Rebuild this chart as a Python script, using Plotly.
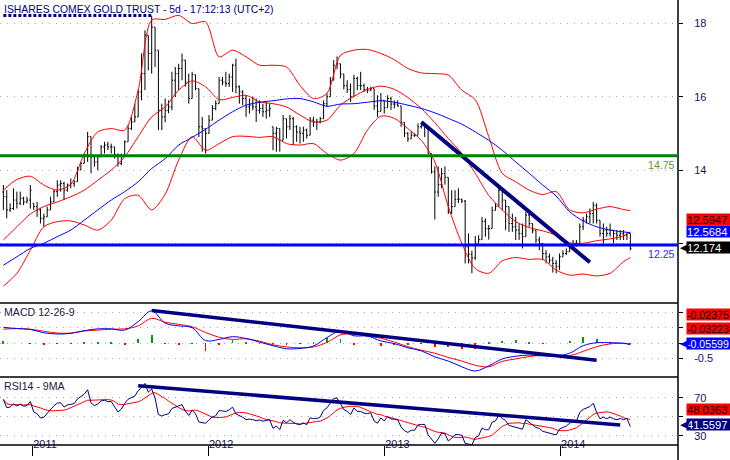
import pandas as pd
import plotly.graph_objects as go

# ---------------- data (weekly bars) ----------------
dates = pd.date_range("2010-11-01", periods=187, freq="7D")

opens = [13.40,13.27,12.91,12.95,13.18,13.09,13.22,13.13,13.18,13.09,
         13.00,12.91,12.68,12.72,12.91,13.13,13.41,13.59,13.63,13.45,
         13.59,13.63,13.68,14.00,14.18,14.41,14.91,14.36,14.22,14.36,
         14.63,14.68,14.63,14.63,14.41,14.18,14.36,14.77,15.13,15.31,
         15.45,16.13,16.63,17.68,17.18,17.90,17.27,15.63,15.45,15.63,
         15.72,16.45,16.63,16.77,17.00,16.40,15.95,16.60,16.22,15.18,
         15.13,15.00,15.36,15.68,15.81,16.45,16.40,16.36,16.54,16.86,
         16.27,16.13,15.95,15.72,15.77,15.72,15.63,15.68,15.59,15.63,
         15.18,15.00,15.13,14.81,15.40,15.18,15.40,15.18,15.04,15.00,
         15.09,14.95,15.36,15.31,15.31,15.40,15.81,16.00,16.45,16.86,
         16.90,16.62,16.30,16.20,16.00,16.50,16.30,16.30,16.20,16.18,
         16.22,15.75,15.60,15.90,15.70,15.95,15.80,15.80,15.75,15.30,
         15.00,14.85,14.95,14.95,15.18,15.20,15.20,14.45,13.95,13.40,
         13.60,13.90,13.80,12.85,13.00,13.20,13.20,13.15,11.90,11.70,
         11.60,12.00,12.10,12.60,12.40,12.40,12.90,13.00,13.45,13.18,
         13.00,12.54,12.45,12.36,12.27,12.18,12.77,12.54,12.36,12.09,
         12.00,11.72,11.63,11.54,11.45,11.36,11.63,11.72,11.77,11.90,
         12.00,12.00,12.45,12.63,12.72,12.81,13.04,12.63,12.27,12.36,
         12.27,12.36,12.27,12.22,12.27,12.22,12.27]
highs = [13.59,13.45,13.09,13.50,13.41,13.41,13.27,13.27,13.59,13.09,
         13.13,12.95,12.81,13.00,13.27,13.45,13.72,13.72,13.68,13.63,
         13.77,13.72,14.09,14.22,14.45,15.04,14.91,14.36,14.41,14.68,
         14.77,14.77,14.72,14.63,14.45,14.45,14.81,15.22,15.45,15.81,
         16.18,17.18,17.81,17.68,18.20,17.90,17.27,15.81,15.95,15.90,
         16.68,16.81,16.90,17.18,17.00,16.63,16.68,16.60,16.22,15.45,
         15.13,15.50,15.77,15.90,16.54,16.54,16.68,16.63,16.90,17.04,
         16.31,16.18,16.04,15.95,16.00,15.95,15.90,15.81,15.86,15.81,
         15.18,15.18,15.13,15.50,15.40,15.50,15.45,15.22,15.18,15.18,
         15.13,15.45,15.45,15.40,15.45,15.90,16.09,16.54,17.00,17.10,
         16.90,16.62,16.45,16.36,16.60,16.55,16.68,16.36,16.27,16.27,
         16.22,16.04,16.10,15.90,16.04,16.00,15.90,15.90,15.75,15.30,
         15.04,15.04,15.00,15.27,15.27,15.27,15.20,14.45,14.10,14.10,
         14.05,14.10,13.80,13.45,13.45,13.50,13.22,13.18,12.27,11.80,
         12.20,12.22,12.72,12.68,12.50,13.00,13.10,13.55,13.45,13.18,
         13.00,12.81,12.72,12.54,12.54,12.86,12.90,12.54,12.36,12.18,
         12.00,11.81,11.72,11.63,11.54,11.72,11.81,11.86,12.00,12.09,
         12.09,12.54,12.72,12.81,12.95,13.13,13.09,12.63,12.54,12.45,
         12.54,12.36,12.36,12.36,12.36,12.31,12.27]
lows = [12.91,12.68,12.86,12.91,12.95,13.04,13.04,13.09,12.95,12.91,
        12.72,12.54,12.45,12.72,12.91,13.13,13.27,13.41,13.18,13.41,
        13.50,13.54,13.68,14.00,14.18,14.22,13.91,14.09,14.00,14.36,
        14.45,14.54,14.45,14.31,14.09,14.13,14.36,14.77,15.09,15.31,
        15.45,15.90,16.18,16.72,16.63,16.81,15.09,15.09,15.30,15.55,
        15.63,15.99,16.18,16.45,16.27,15.81,15.95,16.18,14.90,14.50,
        14.45,15.00,15.36,15.63,15.81,16.31,16.27,16.27,16.13,16.09,
        15.81,15.77,15.45,15.54,15.63,15.31,15.54,15.45,15.40,15.45,
        14.54,14.50,14.50,14.81,14.86,15.09,14.68,14.77,14.72,14.77,
        14.86,14.95,15.18,15.09,15.27,15.40,15.72,16.00,16.45,16.75,
        16.50,16.20,16.10,15.86,16.00,16.18,16.18,16.13,16.10,16.15,
        15.64,15.45,15.60,15.54,15.70,15.64,15.68,15.72,15.18,14.90,
        14.77,14.85,14.90,14.95,15.13,14.90,14.45,13.90,12.65,13.27,
        13.50,13.60,12.80,12.80,13.00,13.10,13.10,11.45,11.45,11.18,
        11.55,12.00,12.10,12.18,12.10,12.40,12.90,13.00,12.90,12.36,
        12.31,12.31,12.09,12.09,11.86,12.18,12.45,12.27,12.00,11.81,
        11.54,11.45,11.45,11.20,11.18,11.27,11.63,11.68,11.77,11.86,
        11.90,12.00,12.36,12.54,12.54,12.54,12.54,12.18,12.00,12.18,
        12.18,12.00,12.09,12.09,12.09,12.09,11.81]
closes = [13.27,12.91,12.95,13.18,13.09,13.22,13.13,13.18,13.45,13.00,
          12.91,12.68,12.72,12.91,13.13,13.41,13.59,13.63,13.45,13.59,
          13.63,13.68,14.00,14.18,14.41,14.91,14.36,14.22,14.36,14.63,
          14.68,14.63,14.63,14.41,14.18,14.36,14.77,15.13,15.31,15.45,
          16.13,16.63,17.68,17.18,17.90,17.27,15.63,15.45,15.63,15.72,
          16.45,16.63,16.77,17.00,16.40,15.95,16.60,16.22,15.18,15.13,
          15.00,15.36,15.68,15.81,16.45,16.40,16.36,16.54,16.86,16.27,
          16.13,15.95,15.72,15.77,15.72,15.63,15.68,15.59,15.63,15.68,
          15.00,15.13,14.81,15.40,15.18,15.40,15.18,15.04,15.00,15.09,
          14.95,15.36,15.31,15.31,15.40,15.81,16.00,16.45,16.86,16.90,
          16.62,16.30,16.20,16.00,16.50,16.30,16.30,16.20,16.18,16.22,
          15.75,15.60,15.90,15.70,15.95,15.80,15.80,15.75,15.30,15.00,
          14.85,14.95,14.95,15.18,15.20,15.20,14.45,13.95,13.40,13.60,
          13.90,13.80,12.85,13.00,13.20,13.20,13.15,11.90,11.70,11.60,
          12.00,12.10,12.60,12.40,12.40,12.90,13.00,13.45,13.18,13.00,
          12.54,12.45,12.36,12.27,12.18,12.77,12.54,12.36,12.09,12.00,
          11.72,11.63,11.54,11.45,11.36,11.63,11.72,11.77,11.90,12.00,
          12.00,12.45,12.63,12.72,12.81,13.04,12.63,12.27,12.36,12.27,
          12.36,12.27,12.22,12.27,12.22,12.27,11.86]

# indicator lines at every 4th bar (+ last bar)
ind_idx = list(range(0, 185, 4)) + [186]
bb_upper = [13.45,13.74,13.83,13.59,13.45,13.61,14.45,15.04,15.13,15.09,
            16.18,18.09,18.11,18.22,18.00,18.04,17.09,17.27,17.09,16.86,
            16.86,16.81,16.31,15.95,16.09,17.13,17.27,17.29,17.18,17.01,
            16.77,16.65,16.63,16.59,16.18,15.92,14.91,13.91,13.68,13.45,
            13.33,13.41,12.91,12.83,12.93,13.00,12.92,12.89]
bb_mid = [12.09,12.45,12.80,13.00,13.13,13.27,13.45,13.72,14.00,14.36,
          14.91,15.45,15.72,16.18,16.43,16.27,15.92,15.98,16.04,15.86,
          15.81,15.72,15.50,15.31,15.36,15.77,16.01,16.20,16.29,16.20,
          15.98,15.68,15.29,14.86,14.45,13.91,13.31,12.91,12.59,12.43,
          12.34,12.22,12.01,12.00,12.07,12.12,12.20,12.31]
bb_lower = [10.83,11.18,11.81,12.45,12.59,12.61,12.50,12.36,12.63,13.22,
            13.31,12.91,13.34,14.27,14.91,14.54,14.72,14.91,14.92,14.89,
            14.91,14.72,14.68,14.72,14.45,14.27,14.45,15.09,15.47,15.41,
            15.13,14.81,14.22,13.00,12.00,11.31,11.18,11.52,11.61,11.56,
            11.56,11.27,11.13,11.16,11.11,11.18,11.50,11.61]
sma_blue = [11.40,11.63,11.86,12.00,12.18,12.36,12.63,12.91,13.18,13.41,
            13.68,14.04,14.31,14.68,14.89,15.11,15.36,15.59,15.77,15.85,
            15.89,15.94,15.95,15.86,15.74,15.80,15.81,15.85,15.89,15.85,
            15.77,15.68,15.56,15.41,15.25,15.04,14.81,14.54,14.22,13.91,
            13.59,13.29,12.86,12.61,12.45,12.36,12.31,12.29]
macd_line = [0.52,0.48,0.45,0.34,0.30,0.32,0.41,0.47,0.47,0.43,
             0.71,1.07,0.66,0.57,0.51,0.08,0.12,0.21,0.15,0.03,
             -0.09,-0.19,-0.18,-0.10,0.18,0.40,0.24,0.23,0.07,-0.02,
             -0.16,-0.26,-0.46,-0.60,-0.79,-0.93,-0.76,-0.53,-0.44,-0.40,
             -0.43,-0.43,-0.34,-0.09,0.01,0.01,-0.01,-0.056]
macd_signal = [0.46,0.48,0.46,0.39,0.33,0.33,0.40,0.43,0.46,0.47,
               0.57,0.82,0.69,0.62,0.54,0.35,0.19,0.12,0.14,0.06,
               -0.06,-0.13,-0.16,-0.13,0.02,0.27,0.30,0.23,0.16,0.03,
               -0.12,-0.24,-0.34,-0.48,-0.60,-0.74,-0.79,-0.61,-0.53,-0.45,
               -0.41,-0.43,-0.42,-0.28,-0.12,-0.03,-0.01,-0.032]

# drawn trend lines (bar index, value)
price_trend_idx = [124, 174]
price_trend_val = [15.31, 11.48]
macd_trend_idx = [44, 176]
macd_trend_val = [1.08, -0.57]
rsi_trend_idx = [40, 183]
rsi_trend_val = [83.0, 41.3]

# horizontal levels (position on this chart's scale) and their labels
level_vals = [14.39, 11.95]
level_texts = ["14.75", "12.25"]
level_colors = ["#008000", "#0000ff"]
level_text_colors = ["#5a9a2a", "#2a2aff"]

price_boxes = ["12.5947", "12.5684", "12.174"]
macd_boxes = ["-0.02375", "-0.03223", "-0.05599"]
rsi_boxes = ["48.0363", "41.5597"]

year_ticks = ["2011-01-01", "2012-01-01", "2013-01-01", "2014-01-01"]
year_labels = ["2011", "2012", "2013", "2014"]

# ---------------- RSI 14 (Wilder) + 9 MA from closes ----------------
rsi = []
ag, al = 0.13, 0.06
for k in range(len(closes)):
    if k > 0:
        ch = closes[k] - closes[k - 1]
        ag = (ag * 13 + max(ch, 0)) / 14
        al = (al * 13 + max(-ch, 0)) / 14
    rsi.append(100 - 100 / (1 + ag / al))
rsi_ma = pd.Series(rsi).rolling(9, min_periods=1).mean().tolist()

sx = dates[ind_idx]
hist = [m - s for m, s in zip(macd_line, macd_signal)]

FONT = "Liberation Sans, Arial, sans-serif"
FS = 10.6
RED = "#ff0000"
BLUE = "#0000ff"
NAVY = "#000080"

fig = go.Figure()

fig.add_trace(go.Ohlc(x=dates, open=opens, high=highs, low=lows, close=closes,
                      increasing_line_color="black", decreasing_line_color="black",
                      line_width=1, tickwidth=0.35, xaxis="x", yaxis="y",
                      showlegend=False))
for arr, col in [(bb_upper, RED), (bb_mid, RED), (bb_lower, RED), (sma_blue, BLUE)]:
    fig.add_trace(go.Scatter(x=sx, y=arr, mode="lines", xaxis="x", yaxis="y",
                             line=dict(color=col, width=1, shape="spline", smoothing=0.8),
                             showlegend=False))

imax = max(range(len(highs)), key=lambda k: highs[k])
fig.add_trace(go.Scatter(x=[dates[0], dates[imax]], y=[highs[imax] + 0.02] * 2, mode="lines",
                         xaxis="x", yaxis="y", line=dict(color=NAVY, width=3, dash="3px,2px"),
                         showlegend=False))
fig.add_trace(go.Scatter(x=dates[price_trend_idx], y=price_trend_val, mode="lines",
                         xaxis="x", yaxis="y", line=dict(color=NAVY, width=4),
                         showlegend=False))

# MACD panel
fig.add_trace(go.Bar(x=sx, y=hist, xaxis="x", yaxis="y2", width=1.6 * 86400000,
                     marker=dict(color=["#00a000" if v >= 0 else RED for v in hist], line_width=0),
                     showlegend=False))
fig.add_trace(go.Scatter(x=sx, y=macd_signal, mode="lines", xaxis="x", yaxis="y2",
                         line=dict(color=RED, width=1, shape="spline"), showlegend=False))
fig.add_trace(go.Scatter(x=sx, y=macd_line, mode="lines", xaxis="x", yaxis="y2",
                         line=dict(color=BLUE, width=1, shape="spline"), showlegend=False))
fig.add_trace(go.Scatter(x=dates[macd_trend_idx], y=macd_trend_val, mode="lines",
                         xaxis="x", yaxis="y2", line=dict(color=NAVY, width=3.5),
                         showlegend=False))

# RSI panel
fig.add_trace(go.Scatter(x=dates, y=rsi_ma, mode="lines", xaxis="x", yaxis="y3",
                         line=dict(color=RED, width=1), showlegend=False))
fig.add_trace(go.Scatter(x=dates, y=rsi, mode="lines", xaxis="x", yaxis="y3",
                         line=dict(color=NAVY, width=1), showlegend=False))
fig.add_trace(go.Scatter(x=dates[rsi_trend_idx], y=rsi_trend_val, mode="lines",
                         xaxis="x", yaxis="y3", line=dict(color=NAVY, width=3.5),
                         showlegend=False))

P_DOM = [0.3191, 1.0]
M_DOM = [0.1528, 0.3191]
R_DOM = [0.0, 0.1528]

ycommon = dict(side="right", anchor="x", showline=False, zeroline=False,
               gridcolor="#a8a8a8", griddash="1px,6px", gridwidth=1,
               ticks="outside", ticklen=4, tickcolor="black",
               tickfont=dict(family=FONT, size=FS + 0.4, color="#14145a"),
               ticklabelstandoff=9, fixedrange=True)

fig.update_layout(
    width=730, height=460,
    margin=dict(l=0, r=52, t=0, b=15),
    paper_bgcolor="white", plot_bgcolor="white",
    showlegend=False, bargap=0,
    xaxis=dict(type="date", range=["2010-10-25", "2014-09-02"], anchor="y3",
               showgrid=False, zeroline=False, showline=False,
               rangeslider=dict(visible=False),
               tickvals=year_ticks, ticktext=year_labels,
               ticks="outside", ticklen=10, tickcolor="black", tickwidth=1,
               ticklabelposition="outside right", ticklabelstandoff=-11,
               tickfont=dict(family=FONT, size=FS + 0.4, color="#14145a")),
    yaxis=dict(domain=P_DOM, range=[10.37, 18.64], tickvals=[12, 14, 16, 18],
               ticktext=["", "14", "16", "18"], **ycommon),
    yaxis2=dict(domain=M_DOM, range=[-1.13, 1.33], tickvals=[1, 0.5, 0, -0.5],
                ticktext=["", "", "", "-0.5"], **ycommon),
    yaxis3=dict(domain=R_DOM, range=[20.1, 92.2], tickvals=[70, 50, 30],
                ticktext=["70", "", "30"], **ycommon),
)

shapes = []
for yv in [P_DOM[0], M_DOM[0], 0.0]:
    shapes.append(dict(type="line", xref="paper", yref="paper", x0=0, x1=1, y0=yv, y1=yv,
                       line=dict(color="black", width=1.5)))
shapes.append(dict(type="line", xref="paper", yref="paper", x0=1, x1=1, y0=-0.04, y1=1,
                   line=dict(color="black", width=1.5)))
for lv, lc in zip(level_vals, level_colors):
    shapes.append(dict(type="line", xref="paper", yref="y", x0=0, x1=1, y0=lv, y1=lv,
                       line=dict(color=lc, width=3)))
fig.update_layout(shapes=shapes)

ann = []
ann.append(dict(text="ISHARES COMEX GOLD TRUST - 5d - 17:12:13 (UTC+2)", xref="paper", yref="paper",
                x=0.003, y=1.0, xanchor="left", yanchor="top", showarrow=False, yshift=-2,
                font=dict(family=FONT, size=10.4, color=NAVY)))
ann.append(dict(text="MACD 12-26-9", xref="paper", yref="paper", x=0.003, y=M_DOM[1],
                xanchor="left", yanchor="top", showarrow=False, yshift=-1,
                font=dict(family=FONT, size=FS, color="#202040")))
ann.append(dict(text="RSI14 - 9MA", xref="paper", yref="paper", x=0.003, y=R_DOM[1],
                xanchor="left", yanchor="top", showarrow=False, yshift=-1,
                font=dict(family=FONT, size=FS, color="#202040")))
for lv, lt, lc in zip(level_vals, level_texts, level_text_colors):
    ann.append(dict(text=lt, xref="paper", yref="y", x=1, y=lv, xanchor="right", yanchor="top",
                    showarrow=False, xshift=-1, yshift=-1,
                    font=dict(family=FONT, size=FS, color=lc)))


def box(text, yref, yv, ysh, bg, fg, arrow=False, fsize=11.2):
    ann.append(dict(text=text, xref="paper", yref=yref, x=1, y=yv, xanchor="left",
                    yanchor="middle", xshift=8, yshift=ysh, showarrow=False,
                    bgcolor=bg, width=44, height=11, align="left", borderpad=0,
                    font=dict(family=FONT, size=fsize, color=fg)))
    if arrow:
        ann.append(dict(text="◀", xref="paper", yref=yref, x=1, y=yv, xanchor="left",
                        yanchor="middle", xshift=0, yshift=ysh, showarrow=False,
                        font=dict(family="DejaVu Sans", size=11, color=bg)))


last_close = closes[-1]
box(price_boxes[0], "y", last_close, 29, RED, "black")
box(price_boxes[1], "y", last_close, 17, BLUE, "white")
box(price_boxes[2], "y", last_close, 1, "black", "white", arrow=True)
last_macd = macd_line[-1]
box(macd_boxes[0], "y2", last_macd, 30, RED, "black", fsize=10.6)
box(macd_boxes[1], "y2", last_macd, 16, RED, "black", fsize=10.6)
box(macd_boxes[2], "y2", last_macd, 1, BLUE, "white", arrow=True, fsize=10.6)
rsi_label_val = float(rsi_boxes[1])
box(rsi_boxes[0], "y3", rsi_label_val, 15, RED, "black")
box(rsi_boxes[1], "y3", rsi_label_val, 0, NAVY, "white", arrow=True)

fig.update_layout(annotations=ann)
fig.write_html("out.html", config={"displayModeBar": False},
               post_script="document.body.style.margin='0px';")
